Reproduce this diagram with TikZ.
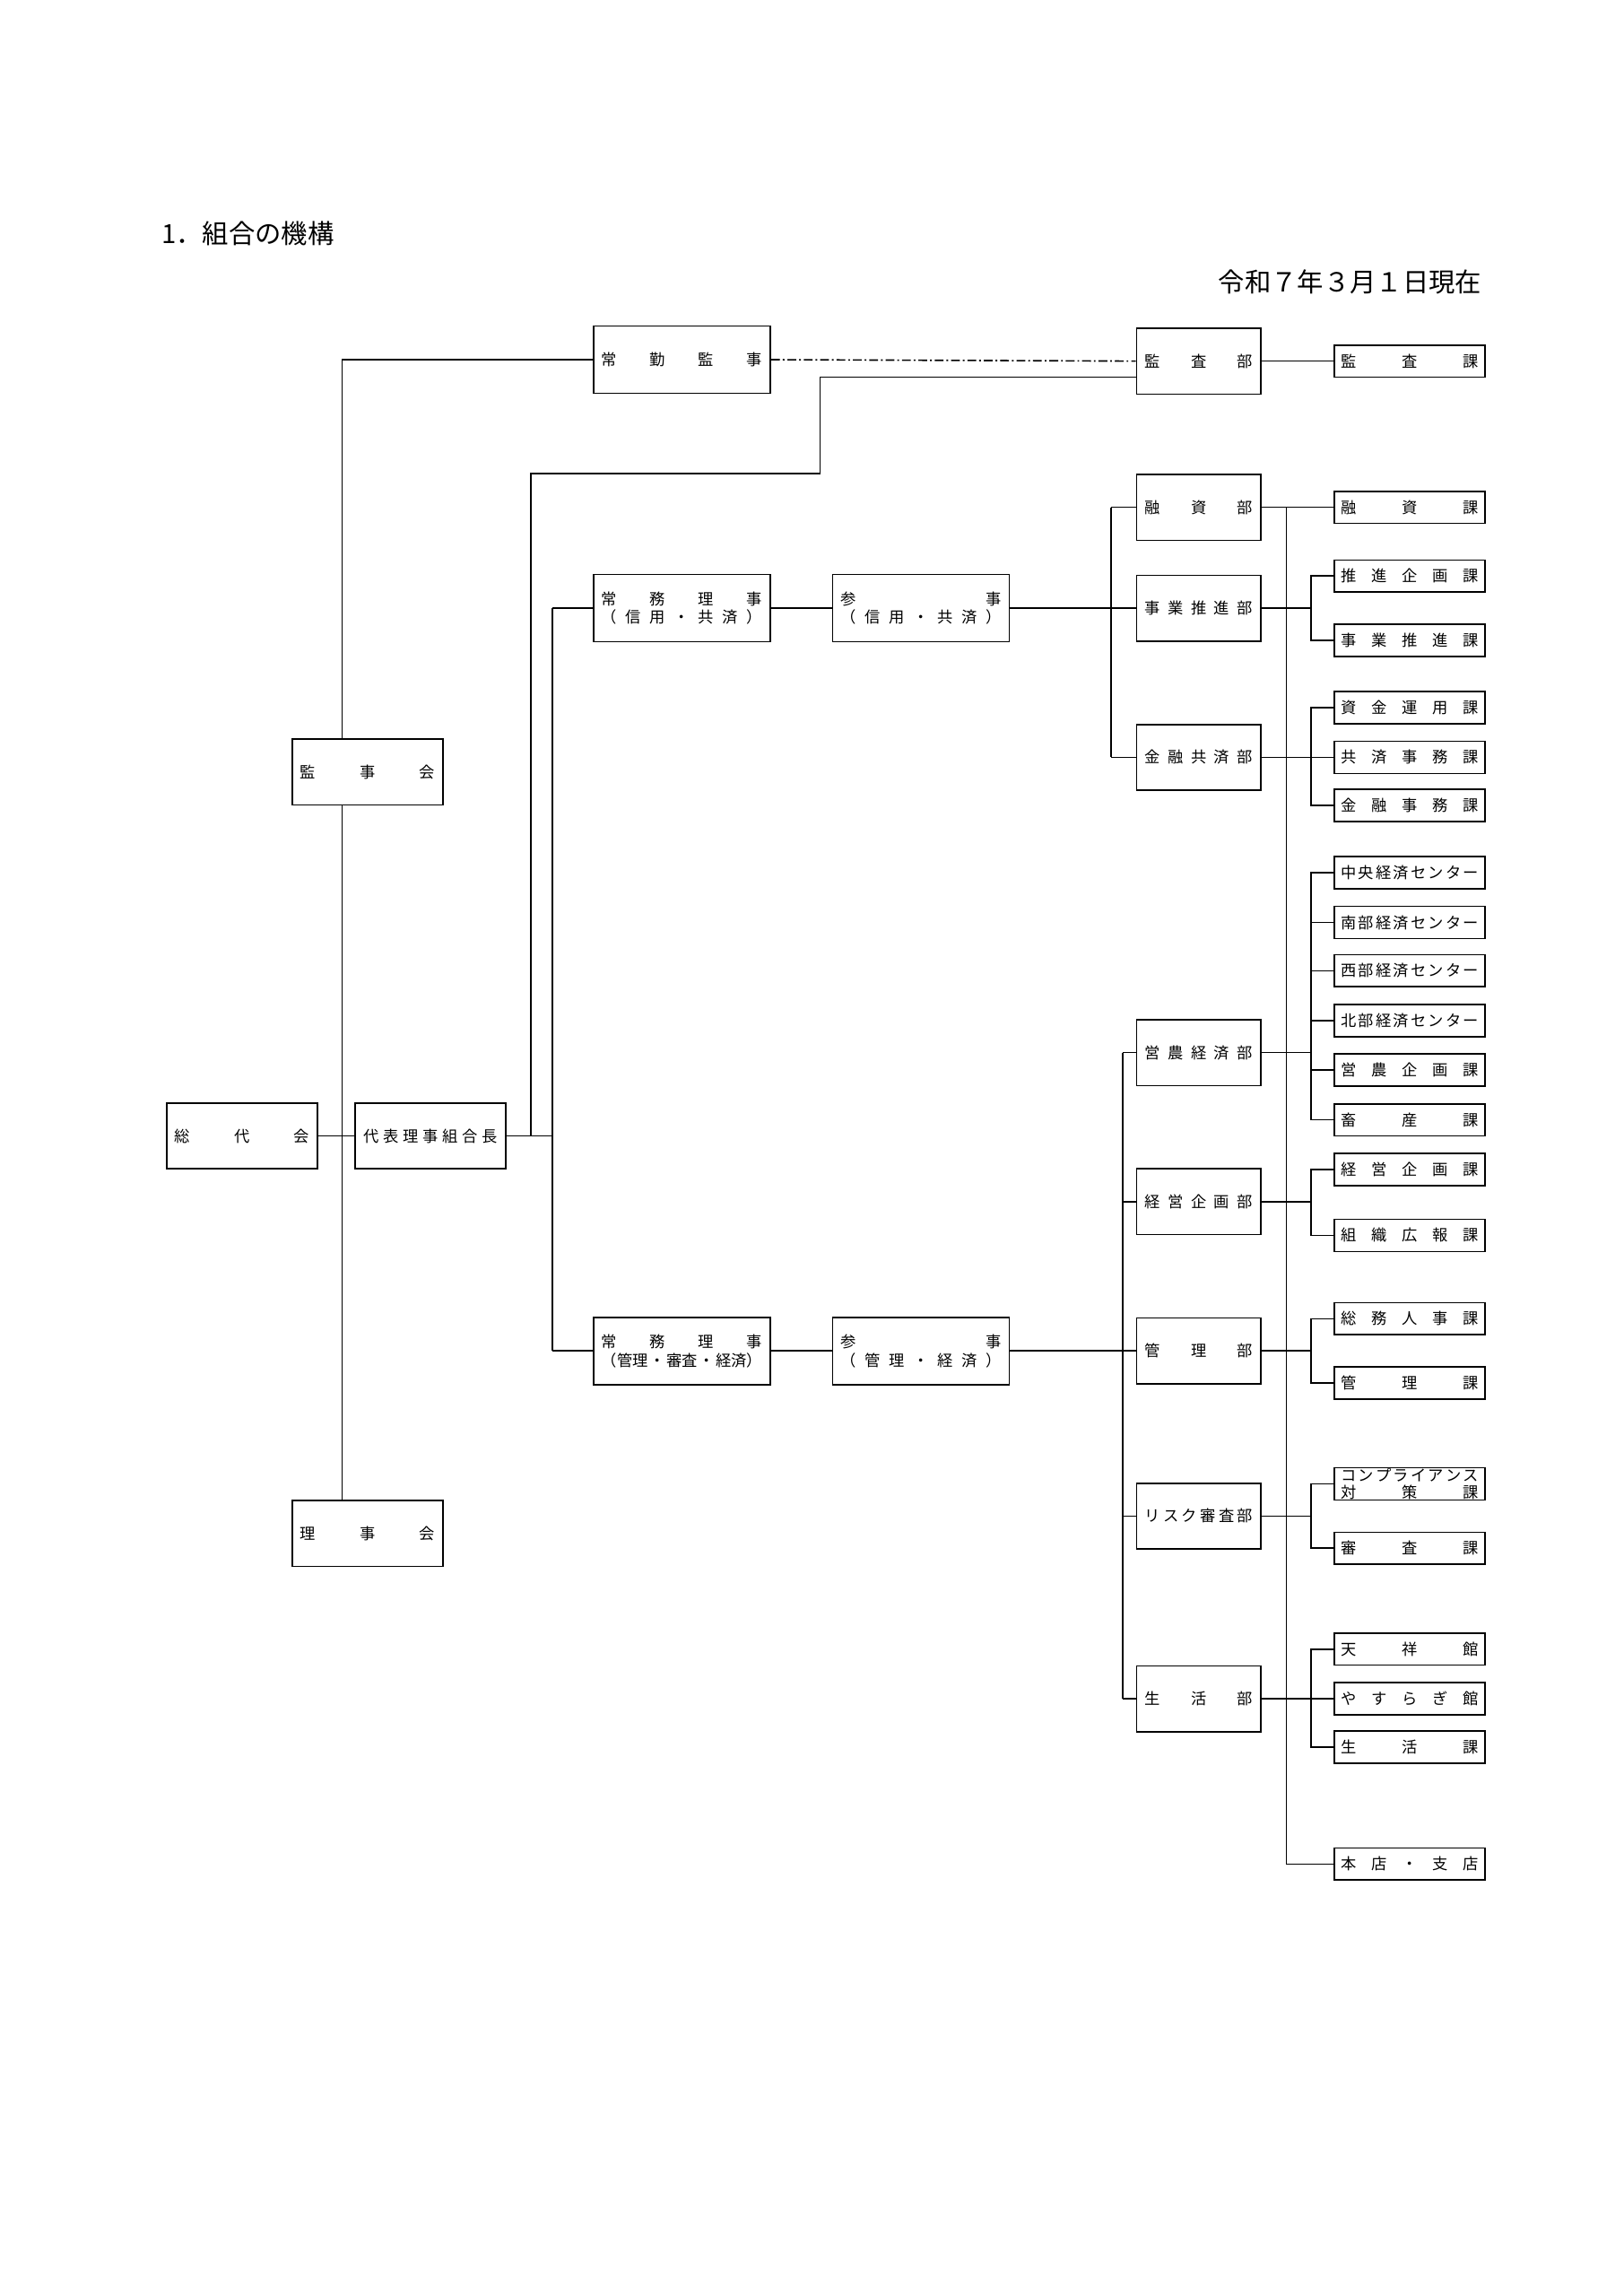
\documentclass[tikz,border=0pt]{standalone}
\usepackage{fontspec}
\setmainfont{Noto Sans CJK JP}
\usetikzlibrary{positioning}
\newcommand\bu[1]{\makebox[37pt][s]{#1}}
\newcommand\ka[1]{\makebox[47pt][s]{#1}}
\newcommand\yaku[1]{\makebox[55pt][s]{#1}}
\tikzset{
  every node/.style={inner sep=0pt,font=\fontsize{5.3}{6.4}\selectfont},
  bubox/.style={draw,minimum width=42.5pt,minimum height=22.5pt},
  kabox/.style={draw,minimum width=51.5pt,minimum height=11pt},
  lbox/.style={draw,minimum width=51.5pt,minimum height=22.5pt},
  tbox/.style={draw,minimum width=60.5pt,minimum height=23pt,align=center},
  conn/.style={line width=0.5pt}
}
\begin{document}
\begin{tikzpicture}[x=0.5pt,y=-0.5pt,line width=0.5pt]
\useasboundingbox (0,0) rectangle (1110.4,1570.5);
% headings
\node[anchor=west,font=\fontsize{9}{10}\selectfont] (title) at (110,160) {1．組合の機構};
\node[anchor=east,font=\fontsize{9}{10}\selectfont] (date) at (1014,193) {令和７年３月１日現在};
% left side
\node[lbox] (sodai) at (165.5,777) {\makebox[46pt][s]{総\hfill 代\hfill 会}};
\node[lbox] (daihyo) at (294.5,777) {\makebox[46pt][s]{代\hfill 表\hfill 理\hfill 事\hfill 組\hfill 合\hfill 長}};
\node[lbox] (kanjikai) at (251.5,528) {\makebox[46pt][s]{監\hfill 事\hfill 会}};
\node[lbox] (rijikai) at (251.5,1049) {\makebox[46pt][s]{理\hfill 事\hfill 会}};
\node[tbox] (jokin) at (466.5,246) {\yaku{常\hfill 勤\hfill 監\hfill 事}};
\node[tbox] (jomu1) at (466.5,416) {\yaku{常\hfill 務\hfill 理\hfill 事}\\\yaku{（\hfill 信\hfill 用\hfill ・\hfill 共\hfill 済\hfill ）}};
\node[tbox] (sanji1) at (630,416) {\yaku{参\hfill 事}\\\yaku{（\hfill 信\hfill 用\hfill ・\hfill 共\hfill 済\hfill ）}};
\node[tbox] (jomu2) at (466.5,924) {\yaku{常\hfill 務\hfill 理\hfill 事}\\\yaku{（管理\hfill ・\hfill 審査\hfill ・\hfill 経済）}};
\node[tbox] (sanji2) at (630,924) {\yaku{参\hfill 事}\\\yaku{（\hfill 管\hfill 理\hfill ・\hfill 経\hfill 済\hfill ）}};
% departments
\node[bubox] (kansabu) at (820,247) {\bu{監\hfill 査\hfill 部}};
\node[bubox] (yushibu) at (820,347) {\bu{融\hfill 資\hfill 部}};
\node[bubox] (jigyobu) at (820,416) {\bu{事\hfill 業\hfill 推\hfill 進\hfill 部}};
\node[bubox] (kinyubu) at (820,518) {\bu{金\hfill 融\hfill 共\hfill 済\hfill 部}};
\node[bubox] (einobu) at (820,720) {\bu{営\hfill 農\hfill 経\hfill 済\hfill 部}};
\node[bubox] (keieibu) at (820,822) {\bu{経\hfill 営\hfill 企\hfill 画\hfill 部}};
\node[bubox] (kanribu) at (820,924) {\bu{管\hfill 理\hfill 部}};
\node[bubox] (riskbu) at (820,1037) {\bu{リ\hfill ス\hfill ク\hfill 審\hfill 査\hfill 部}};
\node[bubox] (seikatsubu) at (820,1162) {\bu{生\hfill 活\hfill 部}};
% sections
\node[kabox] (kansaka) at (964.5,247) {\ka{監\hfill 査\hfill 課}};
\node[kabox] (yushika) at (964.5,347) {\ka{融\hfill 資\hfill 課}};
\node[kabox] (suishinka) at (964.5,394) {\ka{推\hfill 進\hfill 企\hfill 画\hfill 課}};
\node[kabox] (jigyoka) at (964.5,438) {\ka{事\hfill 業\hfill 推\hfill 進\hfill 課}};
\node[kabox] (shikinka) at (964.5,484) {\ka{資\hfill 金\hfill 運\hfill 用\hfill 課}};
\node[kabox] (kyosaika) at (964.5,518) {\ka{共\hfill 済\hfill 事\hfill 務\hfill 課}};
\node[kabox] (kinyuka) at (964.5,551) {\ka{金\hfill 融\hfill 事\hfill 務\hfill 課}};
\node[kabox] (chuo) at (964.5,597) {\ka{中\hfill 央\hfill 経\hfill 済\hfill セ\hfill ン\hfill タ\hfill ー}};
\node[kabox] (nanbu) at (964.5,631) {\ka{南\hfill 部\hfill 経\hfill 済\hfill セ\hfill ン\hfill タ\hfill ー}};
\node[kabox] (seibu) at (964.5,664) {\ka{西\hfill 部\hfill 経\hfill 済\hfill セ\hfill ン\hfill タ\hfill ー}};
\node[kabox] (hokubu) at (964.5,698) {\ka{北\hfill 部\hfill 経\hfill 済\hfill セ\hfill ン\hfill タ\hfill ー}};
\node[kabox] (einoka) at (964.5,732) {\ka{営\hfill 農\hfill 企\hfill 画\hfill 課}};
\node[kabox] (chikusanka) at (964.5,766) {\ka{畜\hfill 産\hfill 課}};
\node[kabox] (keieika) at (964.5,800) {\ka{経\hfill 営\hfill 企\hfill 画\hfill 課}};
\node[kabox] (soshikika) at (964.5,845) {\ka{組\hfill 織\hfill 広\hfill 報\hfill 課}};
\node[kabox] (somuka) at (964.5,902) {\ka{総\hfill 務\hfill 人\hfill 事\hfill 課}};
\node[kabox] (kanrika) at (964.5,946) {\ka{管\hfill 理\hfill 課}};
\node[kabox,align=left,font=\fontsize{5.3}{5.6}\selectfont] (compka) at (964.5,1015) {\ka{コ\hfill ン\hfill プ\hfill ラ\hfill イ\hfill ア\hfill ン\hfill ス}\\\ka{対\hfill 策\hfill 課}};
\node[kabox] (shinsaka) at (964.5,1059) {\ka{審\hfill 査\hfill 課}};
\node[kabox] (tensho) at (964.5,1128) {\ka{天\hfill 祥\hfill 館}};
\node[kabox] (yasuragi) at (964.5,1162) {\ka{や\hfill す\hfill ら\hfill ぎ\hfill 館}};
\node[kabox] (seikatsuka) at (964.5,1195) {\ka{生\hfill 活\hfill 課}};
\node[kabox] (honten) at (964.5,1275) {\ka{本\hfill 店\hfill ・\hfill 支\hfill 店}};
% left connectors
\coordinate (kj) at (234,246);
\draw (jokin.west) -- (kj) -- (kj |- kanjikai.north);
\draw (kj |- kanjikai.south) -- (kj |- rijikai.north);
\draw (sodai.east) -- (daihyo.west);
\coordinate (rj) at (378,777);
\draw (daihyo.east) -- (rj);
\draw (rj |- jomu1.west) -- (rj |- jomu2.west);
\draw (rj |- jomu1.west) -- (jomu1.west);
\draw (rj |- jomu2.west) -- (jomu2.west);
\draw (363,777) -- (363,324) -- (561,324) -- (561,258) -- (kansabu.west |- 0,258);
\draw[dash pattern=on 3pt off 1pt on 0.6pt off 1pt] (jokin.east) -- (kansabu.west);
\draw (jomu1.east) -- (sanji1.west);
\draw (jomu2.east) -- (sanji2.west);
% department connectors
\draw (sanji1.east) -- (jigyobu.west);
\coordinate (up) at (760,416);
\draw (up |- yushibu.west) -- (up |- kinyubu.west);
\draw (up |- yushibu.west) -- (yushibu.west);
\draw (up |- kinyubu.west) -- (kinyubu.west);
\draw (sanji2.east) -- (kanribu.west);
\coordinate (lo) at (768,924);
\draw (lo |- einobu.west) -- (lo |- seikatsubu.west);
\foreach \b in {einobu,keieibu,riskbu,seikatsubu}
  \draw (lo |- \b.west) -- (\b.west);
% section connectors
\draw (kansabu.east) -- (kansaka.west);
\coordinate (sp) at (880,347);
\draw (sp) |- (honten.west);
\draw (yushibu.east) -- (yushika.west);
\foreach \b/\f/\l in {jigyobu/suishinka/jigyoka,kinyubu/shikinka/kinyuka,einobu/chuo/chikusanka,
  keieibu/keieika/soshikika,kanribu/somuka/kanrika,riskbu/compka/shinsaka,seikatsubu/tensho/seikatsuka}{
  \draw (\b.east) -- (897,0 |- \b.east);
  \draw (\f.west) -- (897,0 |- \f.west) -- (897,0 |- \l.west) -- (\l.west);
}
\foreach \k in {kyosaika,nanbu,seibu,hokubu,einoka,yasuragi}
  \draw (897,0 |- \k.west) -- (\k.west);
\end{tikzpicture}
\end{document}
